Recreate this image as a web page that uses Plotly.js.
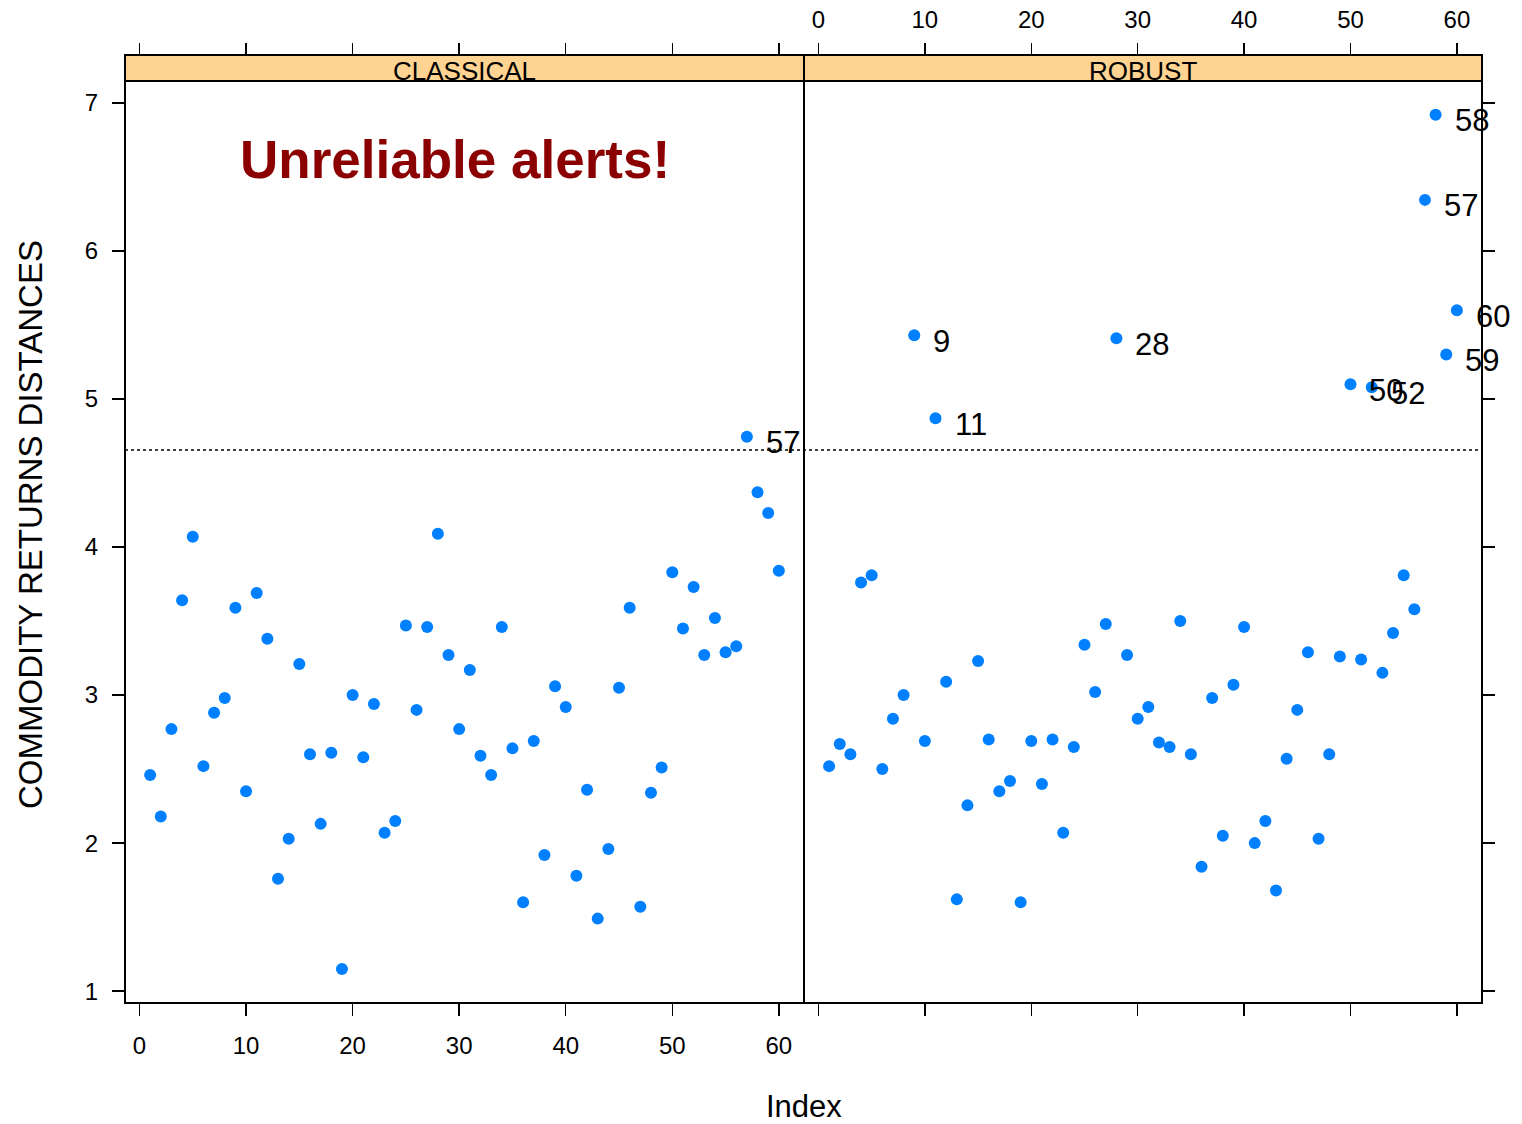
<!DOCTYPE html>
<html>
<head>
<meta charset="utf-8">
<script src="https://cdn.plot.ly/plotly-3.0.1.min.js"></script>
<style>html,body{margin:0;padding:0;background:#fff;}#chart{width:1522px;height:1124px;}</style>
</head>
<body>
<div id="chart"></div>
<script>
// ---- data ----
const panelNames = ["CLASSICAL", "ROBUST"];
const index = Array.from({length: 60}, (_, i) => i + 1);
const classical = [
  2.46, 2.18, 2.77, 3.64, 4.07, 2.52, 2.88, 2.98, 3.59, 2.35,
  3.69, 3.38, 1.76, 2.03, 3.21, 2.60, 2.13, 2.61, 1.15, 3.00,
  2.58, 2.94, 2.07, 2.15, 3.47, 2.90, 3.46, 4.09, 3.27, 2.77,
  3.17, 2.59, 2.46, 3.46, 2.64, 1.60, 2.69, 1.92, 3.06, 2.92,
  1.78, 2.36, 1.49, 1.96, 3.05, 3.59, 1.57, 2.34, 2.51, 3.83,
  3.45, 3.73, 3.27, 3.52, 3.29, 3.33, 4.745, 4.37, 4.23, 3.84
];
const robust = [
  2.52, 2.67, 2.60, 3.76, 3.81, 2.50, 2.84, 3.00, 5.43, 2.69,
  4.87, 3.09, 1.62, 2.255, 3.23, 2.70, 2.35, 2.42, 1.60, 2.69,
  2.40, 2.70, 2.07, 2.65, 3.34, 3.02, 3.48, 5.41, 3.27, 2.84,
  2.92, 2.68, 2.65, 3.50, 2.60, 1.84, 2.98, 2.05, 3.07, 3.46,
  2.00, 2.15, 1.68, 2.57, 2.90, 3.29, 2.03, 2.60, 3.26, 5.10,
  3.24, 5.08, 3.15, 3.42, 3.81, 3.58, 6.345, 6.92, 5.30, 5.60
];
const cutoff = 4.655;
const xTicks = [0, 10, 20, 30, 40, 50, 60];
const yTicks = [1, 2, 3, 4, 5, 6, 7];
const alertText = "Unreliable alerts!";
const xLabel = "Index";
const yLabel = "COMMODITY RETURNS DISTANCES";

// ---- styling ----
const FONT = "Liberation Sans, Arial, Helvetica, sans-serif";
const ptColor = "#0080ff";
const stripColor = "#FFD391";
const xRange = [-1.36, 62.36];
const yRange = [0.92, 7.148];
const split = 679 / 1357;
const yTop = 922 / 948;

function pts(vals, xa) {
  return {
    type: "scatter", mode: "markers", x: index, y: vals,
    xaxis: xa, yaxis: "y",
    marker: {color: ptColor, size: 12, line: {width: 0}},
    showlegend: false, hoverinfo: "x+y"
  };
}
const traces = [
  pts(classical, "x"),
  pts(robust, "x2"),
  {type: "scatter", x: [], y: [], xaxis: "x3", yaxis: "y", showlegend: false, hoverinfo: "skip"},
  {type: "scatter", x: [], y: [], xaxis: "x4", yaxis: "y", showlegend: false, hoverinfo: "skip"},
  {type: "scatter", x: [], y: [], xaxis: "x2", yaxis: "y2", showlegend: false, hoverinfo: "skip"}
];

const tickCommon = {
  range: xRange, tickvals: xTicks, ticks: "outside", ticklen: 12, tickwidth: 1.5,
  tickcolor: "#000", showgrid: false, zeroline: false, showline: false,
  tickfont: {family: FONT, size: 24, color: "#000"}, fixedrange: true,
  ticklabelstandoff: 9
};

const annotations = [];
[[classical, "x"], [robust, "x2"]].forEach(([vals, xa]) => {
  vals.forEach((v, i) => {
    if (v > cutoff) {
      annotations.push({
        x: index[i], y: v, xref: xa, yref: "y", text: String(index[i]),
        showarrow: false, xanchor: "left", yanchor: "middle", xshift: 17, yshift: -6,
        font: {family: FONT, size: 31, color: "#000"}
      });
    }
  });
});
// strip labels
[["x", 0], ["x2", 1]].forEach(([xa, k]) => {
  annotations.push({
    xref: xa + " domain", yref: "paper", x: 0.5, y: yTop - 0.007,
    text: panelNames[k], showarrow: false, xanchor: "center", yanchor: "bottom",
    font: {family: FONT, size: 26, color: "#000"}
  });
});
annotations.push({
  xref: "x", yref: "y", x: 29.6, y: 6.62, text: "<b>" + alertText + "</b>",
  showarrow: false, xanchor: "center", yanchor: "middle",
  font: {family: FONT, size: 53, color: "#8B0000"}
});
annotations.push({
  xref: "paper", yref: "paper", x: 0.5, y: (1003 - 1106) / 948, text: xLabel,
  showarrow: false, xanchor: "center", yanchor: "middle",
  font: {family: FONT, size: 31, color: "#000"}
});
annotations.push({
  xref: "paper", yref: "paper", x: (30 - 125) / 1357, y: (1003 - 525) / 948, text: yLabel,
  showarrow: false, xanchor: "center", yanchor: "middle", textangle: -90,
  font: {family: FONT, size: 33, color: "#000"}
});

const shapes = [];
["x", "x2"].forEach(xa => {
  shapes.push({type: "rect", xref: xa + " domain", yref: "paper", x0: 0, x1: 1, y0: yTop, y1: 1,
    fillcolor: stripColor, line: {color: "#000", width: 2}, layer: "below"});
  shapes.push({type: "rect", xref: xa + " domain", yref: "y domain", x0: 0, x1: 1, y0: 0, y1: 1,
    line: {color: "#000", width: 2}, fillcolor: "rgba(0,0,0,0)"});
});
shapes.push({type: "line", xref: "paper", yref: "y", x0: 0, x1: 1, y0: cutoff, y1: cutoff,
  line: {color: "#000", width: 1.5, dash: "dot"}});

const layout = {
  width: 1522, height: 1124,
  margin: {l: 125, r: 40, t: 55, b: 121},
  paper_bgcolor: "#fff", plot_bgcolor: "#fff",
  font: {family: FONT, color: "#000"},
  showlegend: false,
  xaxis: Object.assign({}, tickCommon, {domain: [0, split], anchor: "y"}),
  xaxis2: Object.assign({}, tickCommon, {domain: [split, 1], anchor: "y", showticklabels: false}),
  xaxis3: Object.assign({}, tickCommon, {overlaying: "x", side: "top", anchor: "free", position: 1, showticklabels: false}),
  xaxis4: Object.assign({}, tickCommon, {overlaying: "x2", side: "top", anchor: "free", position: 1, ticklabelstandoff: 5}),
  yaxis: {
    domain: [0, yTop], anchor: "x", range: yRange, tickvals: yTicks, ticks: "outside",
    ticklen: 12, tickwidth: 1.5, tickcolor: "#000", showgrid: false, zeroline: false, showline: false,
    tickfont: {family: FONT, size: 24, color: "#000"}, fixedrange: true, ticklabelstandoff: 9
  },
  yaxis2: {
    overlaying: "y", side: "right", anchor: "x2", range: yRange, tickvals: yTicks, ticks: "outside",
    ticklen: 12, tickwidth: 1.5, tickcolor: "#000", showgrid: false, zeroline: false, showline: false,
    showticklabels: false, fixedrange: true
  },
  annotations: annotations,
  shapes: shapes
};

Plotly.newPlot("chart", traces, layout, {displayModeBar: false, staticPlot: true});
</script>
</body>
</html>
